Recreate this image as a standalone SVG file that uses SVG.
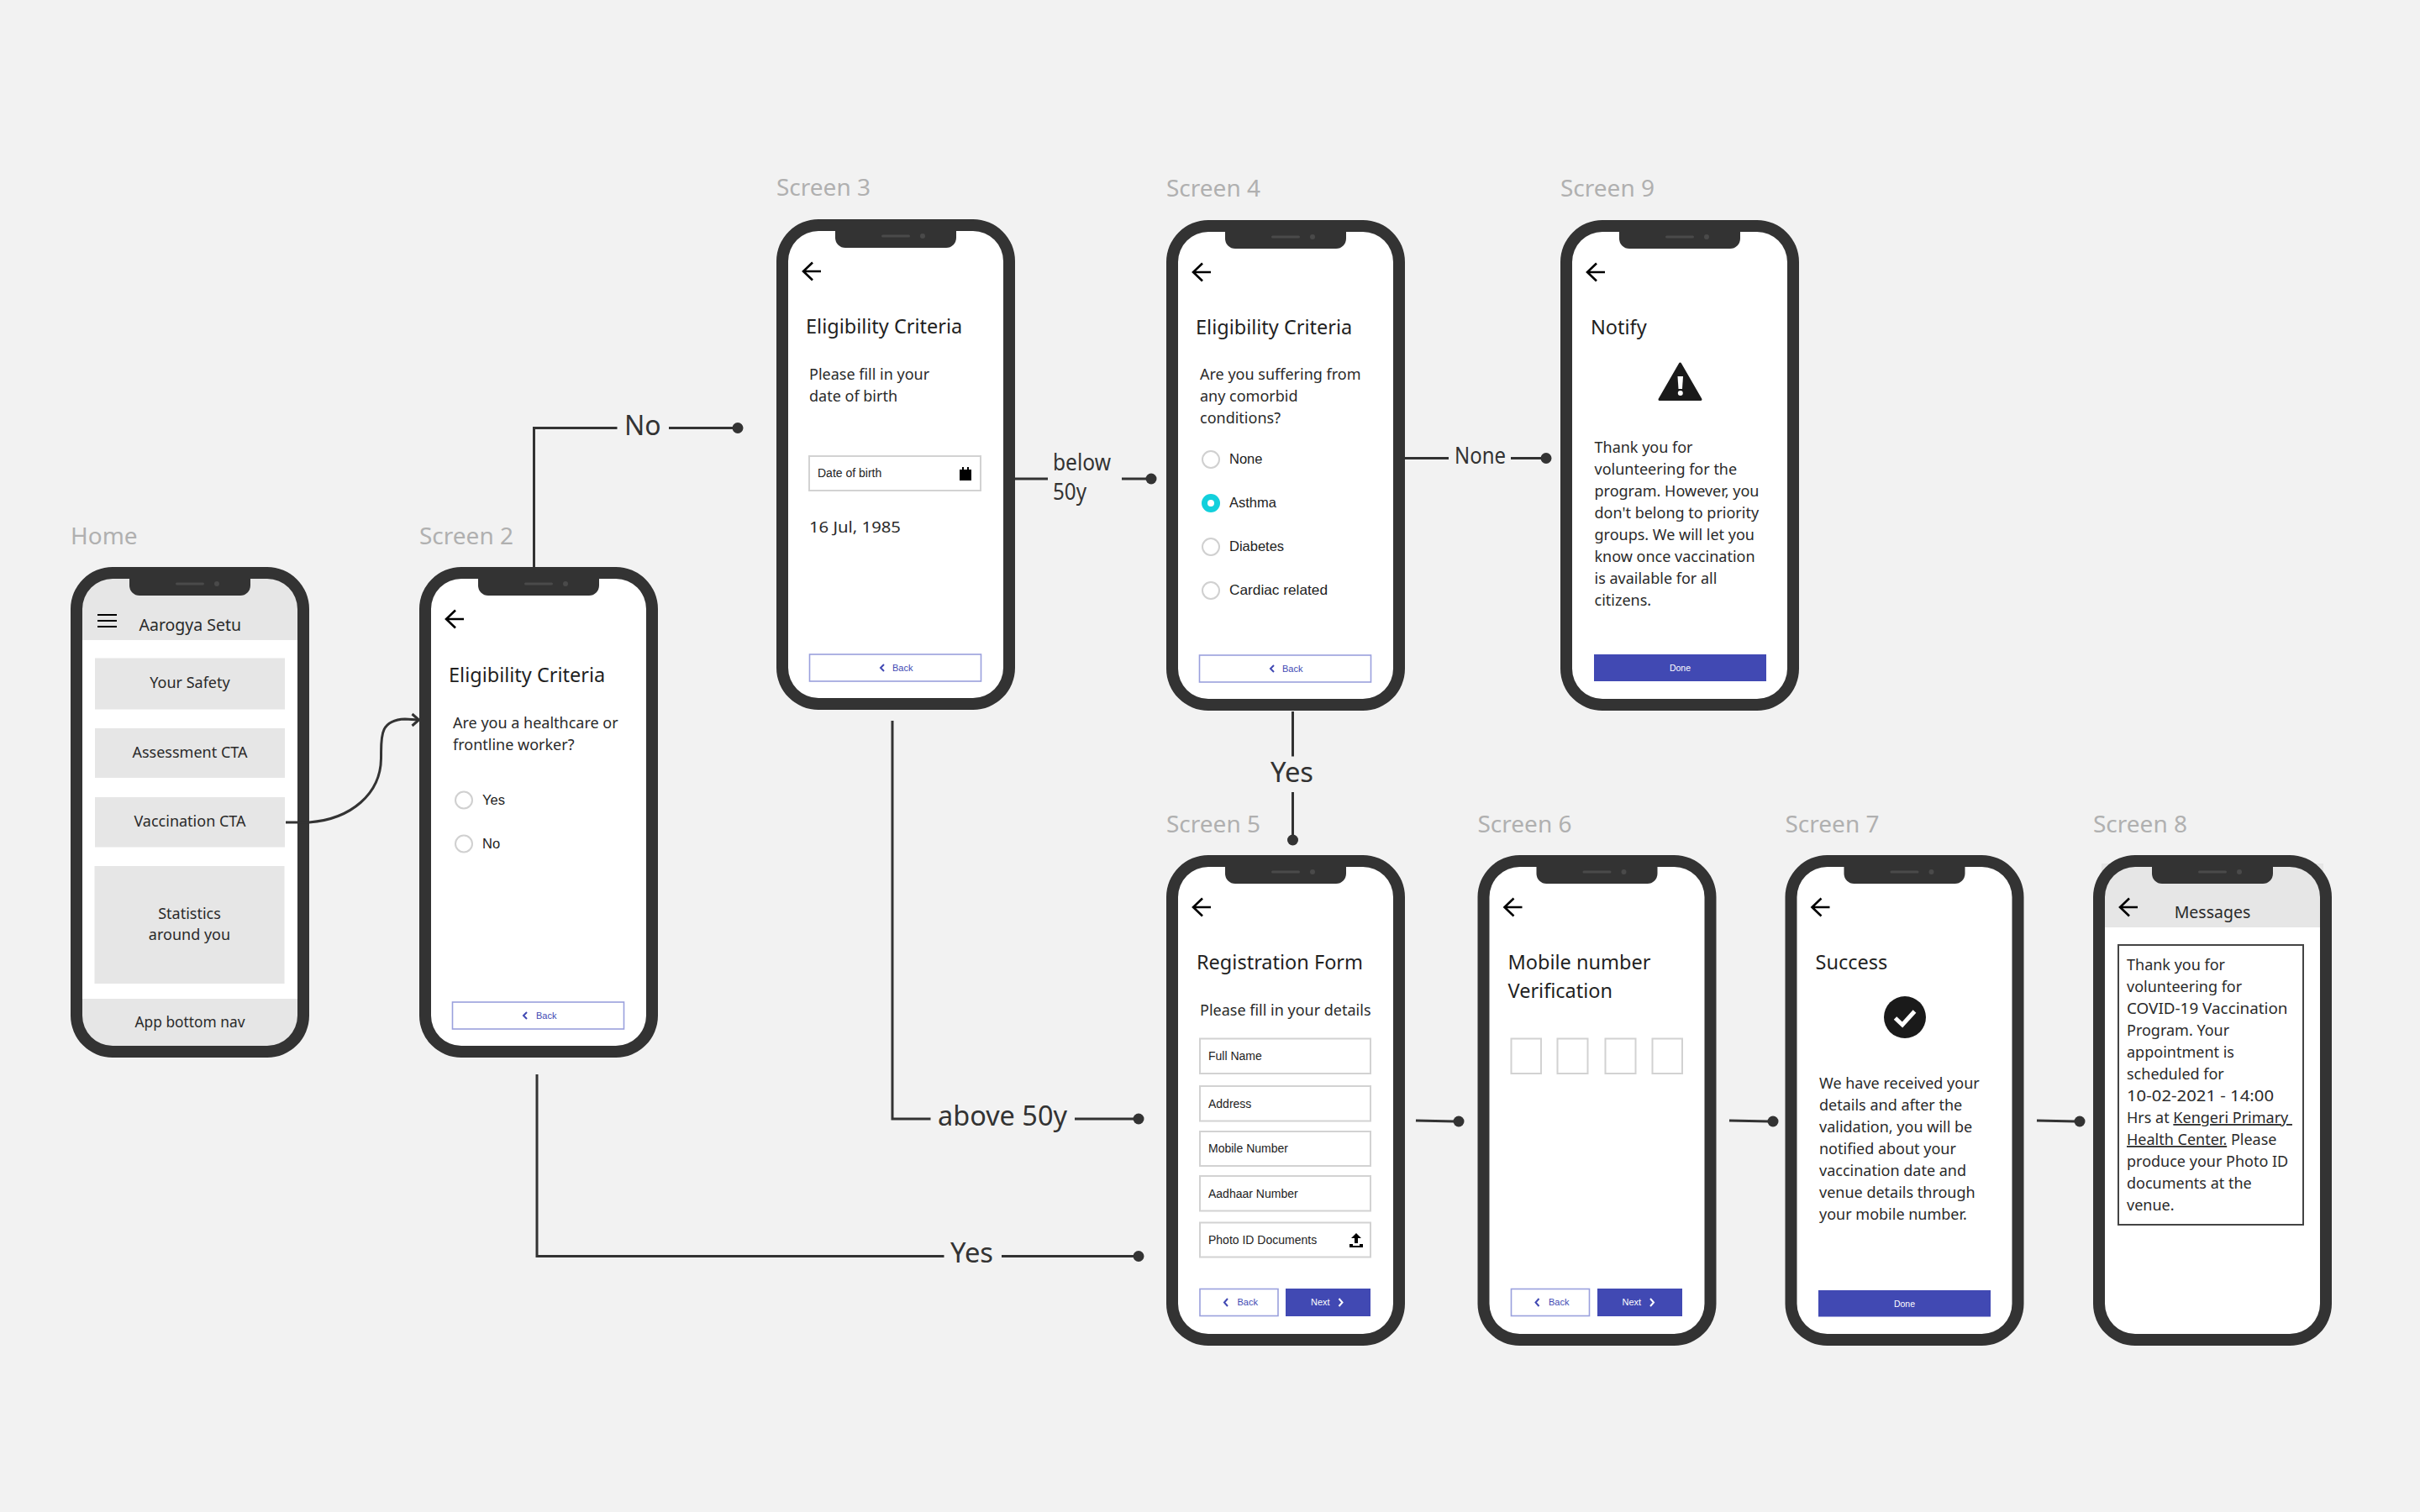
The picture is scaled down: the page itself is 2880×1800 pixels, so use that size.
<svg xmlns="http://www.w3.org/2000/svg" width="2880" height="1800" viewBox="0 0 2880 1800">
<style>
text{font-family:"Noto Sans","Open Sans",sans-serif;fill:#222}
.cap{font-size:28px;fill:#b0b0b0}
.lbl{font-size:32px;fill:#333}
.lbs{font-size:27px;fill:#333}
.t{font-size:23.5px;fill:#1f1f1f}
.b{font-size:18px;fill:#2a2a2a}
.c{font-size:18px;fill:#2a2a2a;text-anchor:middle}
.h{font-size:19.5px;fill:#2a2a2a}
.r{font-family:"Liberation Sans",Arial,sans-serif;font-size:16.5px;fill:#222}
.f{font-family:"Liberation Sans",Arial,sans-serif;font-size:14px;fill:#222}
.bk{font-family:"Liberation Sans",Arial,sans-serif;font-size:11px;fill:#4149b3}
.nx{font-family:"Liberation Sans",Arial,sans-serif;font-size:11px;fill:#fff}
.dn{font-family:"Liberation Sans",Arial,sans-serif;font-size:10.5px;fill:#fff;text-anchor:middle}
.screen{fill:#fff}
.gray{fill:#e6e6e6}
.field{fill:#fff;stroke:#d2d2d2;stroke-width:2}
.radio{fill:#fff;stroke:#d0d0d0;stroke-width:2}
.ghost{fill:#fff;stroke:#9aa0dd;stroke-width:1.6}
.solid{fill:#4149b3}
.chev{fill:none;stroke:#4149b3;stroke-width:2}
.chevw{fill:none;stroke:#fff;stroke-width:2}
.conn{fill:none;stroke:#333;stroke-width:3}
.dot{fill:#333}
</style>
<defs>
<g id="frame">
<path fill="#333" fill-rule="evenodd" d="M50 0H234A50 50 0 0 1 284 50V534A50 50 0 0 1 234 584H50A50 50 0 0 1 0 534V50A50 50 0 0 1 50 0ZM50 14A36 36 0 0 0 14 50V534A36 36 0 0 0 50 570H234A36 36 0 0 0 270 534V50A36 36 0 0 0 234 14Z"/>
<path fill="#333" d="M70 10H214V22A12 12 0 0 1 202 34H82A12 12 0 0 1 70 22Z"/>
<rect x="125" y="18.5" width="34" height="3" rx="1.5" fill="#4a4a4a"/>
<circle cx="174" cy="20" r="3" fill="#4a4a4a"/>
</g>
<path id="back" d="M53 62H33M43 51.5L32 62L43 72.5" fill="none" stroke="#000" stroke-width="2.6"/>
<rect id="inner" x="10" y="10" width="264" height="564" rx="36" class="screen"/>
</defs>
<rect width="2880" height="1800" fill="#f2f2f2"/>

<g id="home" transform="translate(84 675)">
<text class="cap" x="0" y="-27">Home</text>
<rect x="10" y="10" width="264" height="564" rx="36" class="gray"/>
<rect x="14" y="87" width="256" height="427" class="screen"/>
<path d="M32 57H55M32 64H55M32 71H55" stroke="#000" stroke-width="2" fill="none"/>
<text class="h" x="81.5" y="76">Aarogya Setu</text>
<rect class="gray" x="29" y="108.5" width="226" height="61"/>
<rect class="gray" x="29" y="192" width="226" height="59"/>
<rect class="gray" x="29" y="274" width="226" height="59.5"/>
<rect class="gray" x="28.500" y="356" width="226" height="140"/>
<text class="c" x="142" y="144">Your Safety</text>
<text class="c" x="142" y="226.500">Assessment CTA</text>
<text class="c" x="142" y="309">Vaccination CTA</text>
<text class="c" x="141.500" y="419">Statistics</text>
<text class="c" x="141.500" y="444">around you</text>
<text class="c" x="142" y="548" textLength="131" lengthAdjust="spacingAndGlyphs">App bottom nav</text>
<use href="#frame"/>
</g>

<g id="screen2" transform="translate(499 675)">
<text class="cap" x="0" y="-27">Screen 2</text>
<use href="#inner"/>
<use href="#back"/>
<text class="t" x="35" y="136.500">Eligibility Criteria</text>
<text class="b" x="40" y="192">Are you a healthcare or</text>
<text class="b" x="40" y="218">frontline worker?</text>
<circle class="radio" cx="53" cy="277.500" r="10"/>
<text class="r" x="75" y="282.500">Yes</text>
<circle class="radio" cx="53" cy="329.500" r="10"/>
<text class="r" x="75" y="334.500">No</text>
<rect class="ghost" x="39.500" y="518" width="204" height="32"/>
<path class="chev" d="M128 530L124 534L128 538"/>
<text class="bk" x="139" y="538">Back</text>
<use href="#frame"/>
</g>

<g id="screen3" transform="translate(924 261)">
<text class="cap" x="0" y="-28">Screen 3</text>
<use href="#inner"/>
<use href="#back"/>
<text class="t" x="35" y="136">Eligibility Criteria</text>
<text class="b" x="39" y="190.500">Please fill in your</text>
<text class="b" x="39" y="216.500">date of birth</text>
<rect class="field" x="39" y="282" width="204" height="41"/>
<text class="f" x="49" y="307">Date of birth</text>
<path fill="#000" d="M218 298H221V295H223V298H227V295H229V298H232V311H218Z"/>
<text class="b" x="39" y="372.500" textLength="109" lengthAdjust="spacingAndGlyphs">16 Jul, 1985</text>
<rect class="ghost" x="39.500" y="518" width="204" height="32"/>
<path class="chev" d="M128 530L124 534L128 538"/>
<text class="bk" x="138" y="538">Back</text>
<use href="#frame"/>
</g>

<g id="screen4" transform="translate(1388 262)">
<text class="cap" x="0" y="-28">Screen 4</text>
<use href="#inner"/>
<use href="#back"/>
<text class="t" x="35" y="136">Eligibility Criteria</text>
<text class="b" x="40" y="190">Are you suffering from</text>
<text class="b" x="40" y="216">any comorbid</text>
<text class="b" x="40" y="242">conditions?</text>
<circle class="radio" cx="53" cy="285" r="10"/>
<text class="r" x="75" y="290">None</text>
<circle cx="53" cy="337" r="11" fill="#12d0dc"/>
<circle cx="53" cy="337" r="4" fill="#fff"/>
<text class="r" x="75" y="342">Asthma</text>
<circle class="radio" cx="53" cy="389" r="10"/>
<text class="r" x="75" y="394">Diabetes</text>
<circle class="radio" cx="53" cy="441" r="10"/>
<text class="r" x="75" y="446" textLength="117" lengthAdjust="spacingAndGlyphs">Cardiac related</text>
<rect class="ghost" x="39.500" y="518" width="204" height="32"/>
<path class="chev" d="M128 530L124 534L128 538"/>
<text class="bk" x="138" y="538">Back</text>
<use href="#frame"/>
</g>

<g id="screen9" transform="translate(1857 262)">
<text class="cap" x="0" y="-28">Screen 9</text>
<use href="#inner"/>
<use href="#back"/>
<text class="t" x="36" y="136">Notify</text>
<path fill="#1a1a1a" stroke="#1a1a1a" stroke-width="3" stroke-linejoin="round" d="M142.500 171L167 213.500H118Z"/>
<path fill="#fff" d="M139.500 186H146L145 201H140.500Z"/>
<circle cx="142.800" cy="206" r="3" fill="#fff"/>
<text class="b" x="40.500" y="277">Thank you for</text>
<text class="b" x="40.500" y="303">volunteering for the</text>
<text class="b" x="40.500" y="329">program. However, you</text>
<text class="b" x="40.500" y="355">don't belong to priority</text>
<text class="b" x="40.500" y="381">groups. We will let you</text>
<text class="b" x="40.500" y="407">know once vaccination</text>
<text class="b" x="40.500" y="433">is available for all</text>
<text class="b" x="40.500" y="459">citizens.</text>
<rect class="solid" x="40" y="517" width="205" height="32"/>
<text class="dn" x="142.500" y="536.500">Done</text>
<use href="#frame"/>
</g>

<g id="screen5" transform="translate(1388 1018)">
<text class="cap" x="0" y="-27">Screen 5</text>
<use href="#inner"/>
<use href="#back"/>
<text class="t" x="36" y="136">Registration Form</text>
<text class="b" x="40" y="191">Please fill in your details</text>
<rect class="field" x="40" y="218.500" width="203" height="41.500"/>
<text class="f" x="50" y="244">Full Name</text>
<rect class="field" x="40" y="275" width="203" height="41.500"/>
<text class="f" x="50" y="300.500">Address</text>
<rect class="field" x="40" y="329" width="203" height="41"/>
<text class="f" x="50" y="354">Mobile Number</text>
<rect class="field" x="40" y="382" width="203" height="41.500"/>
<text class="f" x="50" y="407.500">Aadhaar Number</text>
<rect class="field" x="40" y="437.500" width="203" height="41"/>
<text class="f" x="50" y="462.500">Photo ID Documents</text>
<path fill="#000" d="M226 450L232 456H228V462H224V456H220ZM218 463H222V465H230V463H234V467H218Z"/>
<rect class="ghost" x="40" y="516.500" width="93" height="32"/>
<path class="chev" d="M73 528L69 532.500L73 537"/>
<text class="bk" x="84.500" y="536">Back</text>
<rect class="solid" x="142" y="516" width="101" height="33"/>
<text class="nx" x="172" y="536">Next</text>
<path class="chevw" d="M205.500 528L209.500 532.500L205.500 537"/>
<use href="#frame"/>
</g>

<g id="screen6" transform="translate(1758.5 1018)">
<text class="cap" x="0" y="-27">Screen 6</text>
<use href="#inner"/>
<use href="#back"/>
<text class="t" x="36" y="136">Mobile number</text>
<text class="t" x="36" y="170">Verification</text>
<rect class="field" x="40" y="218.500" width="35.500" height="41.500"/>
<rect class="field" x="95" y="218.500" width="36" height="41.500"/>
<rect class="field" x="152" y="218.500" width="36" height="41.500"/>
<rect class="field" x="208" y="218.500" width="35.500" height="41.500"/>
<rect class="ghost" x="40" y="516.500" width="93" height="32"/>
<path class="chev" d="M73 528L69 532.500L73 537"/>
<text class="bk" x="84.500" y="536">Back</text>
<rect class="solid" x="142.500" y="516" width="101" height="33"/>
<text class="nx" x="172" y="536">Next</text>
<path class="chevw" d="M205.500 528L209.500 532.500L205.500 537"/>
<use href="#frame"/>
</g>

<g id="screen7" transform="translate(2124.5 1018)">
<text class="cap" x="0" y="-27">Screen 7</text>
<use href="#inner"/>
<use href="#back"/>
<text class="t" x="36" y="136">Success</text>
<circle cx="142.500" cy="193" r="25" fill="#1a1a1a"/>
<path d="M131 194L139.500 202L154 186" fill="none" stroke="#fff" stroke-width="5"/>
<text class="b" x="40.500" y="278">We have received your</text>
<text class="b" x="40.500" y="304">details and after the</text>
<text class="b" x="40.500" y="330">validation, you will be</text>
<text class="b" x="40.500" y="356">notified about your</text>
<text class="b" x="40.500" y="382">vaccination date and</text>
<text class="b" x="40.500" y="408">venue details through</text>
<text class="b" x="40.500" y="434">your mobile number.</text>
<rect class="solid" x="39.500" y="518" width="205" height="31.500"/>
<text class="dn" x="142" y="537.500">Done</text>
<use href="#frame"/>
</g>

<g id="screen8" transform="translate(2491 1018)">
<text class="cap" x="0" y="-27">Screen 8</text>
<use href="#inner"/>
<rect class="gray" x="10" y="10" width="264" height="76"/>
<use href="#back"/>
<text class="h" x="142" y="75" text-anchor="middle">Messages</text>
<rect x="30" y="107" width="220" height="333" fill="#fff" stroke="#444" stroke-width="2"/>
<text class="b" x="40" y="137">Thank you for</text>
<text class="b" x="40" y="163">volunteering for</text>
<text class="b" x="40" y="189" textLength="191.500" lengthAdjust="spacingAndGlyphs">COVID-19 Vaccination</text>
<text class="b" x="40" y="215">Program. Your</text>
<text class="b" x="40" y="241">appointment is</text>
<text class="b" x="40" y="267">scheduled for</text>
<text class="b" x="40" y="293" textLength="175" lengthAdjust="spacingAndGlyphs">10-02-2021 - 14:00</text>
<text class="b" x="40" y="319" xml:space="preserve">Hrs at <tspan text-decoration="underline">Kengeri Primary </tspan></text>
<text class="b" x="40" y="345"><tspan text-decoration="underline">Health Center.</tspan> Please</text>
<text class="b" x="40" y="371">produce your Photo ID</text>
<text class="b" x="40" y="397">documents at the</text>
<text class="b" x="40" y="423">venue.</text>
<use href="#frame"/>
</g>

<g id="connectors">
<path class="conn" d="M340 979H368C418 975 453 945 453.500 903C454 880 450 857 482 856L498 857"/>
<path class="conn" d="M490.500 850L498.500 857L490.500 864"/>
<path class="conn" d="M635.500 675V509.500H734.500M796 509.500H872"/>
<circle class="dot" cx="878" cy="509.500" r="6.500"/>
<text class="lbl" x="743" y="518">No</text>
<path class="conn" d="M1207 570H1247M1335 570H1365"/>
<circle class="dot" cx="1370" cy="570" r="6.500"/>
<text class="lbs" x="1253" y="559.500" textLength="69" lengthAdjust="spacingAndGlyphs">below</text>
<text class="lbs" x="1253" y="594.500" textLength="40" lengthAdjust="spacingAndGlyphs">50y</text>
<path class="conn" d="M1672 545.500H1724M1798 545.500H1835"/>
<circle class="dot" cx="1840" cy="545.500" r="6.500"/>
<text class="lbs" x="1731" y="552" textLength="61" lengthAdjust="spacingAndGlyphs">None</text>
<path class="conn" d="M1538.500 847V900.500M1538.500 943V995"/>
<circle class="dot" cx="1538.500" cy="1000" r="6.500"/>
<text class="lbl" x="1512" y="930.500" textLength="51" lengthAdjust="spacingAndGlyphs">Yes</text>
<path class="conn" d="M1062 858V1332H1107.500M1279 1332H1350"/>
<circle class="dot" cx="1355" cy="1332" r="6.500"/>
<text class="lbl" x="1116" y="1340" textLength="154" lengthAdjust="spacingAndGlyphs">above 50y</text>
<path class="conn" d="M639 1279V1495.500H1123.500M1192 1495.500H1350"/>
<circle class="dot" cx="1355" cy="1495.500" r="6.500"/>
<text class="lbl" x="1131" y="1503" textLength="51" lengthAdjust="spacingAndGlyphs">Yes</text>
<path class="conn" d="M1685 1334L1731 1335"/>
<circle class="dot" cx="1736" cy="1335" r="6.500"/>
<path class="conn" d="M2058 1334L2105 1335"/>
<circle class="dot" cx="2110" cy="1335" r="6.500"/>
<path class="conn" d="M2424 1334L2470 1335"/>
<circle class="dot" cx="2475" cy="1335" r="6.500"/>
</g>
</svg>
